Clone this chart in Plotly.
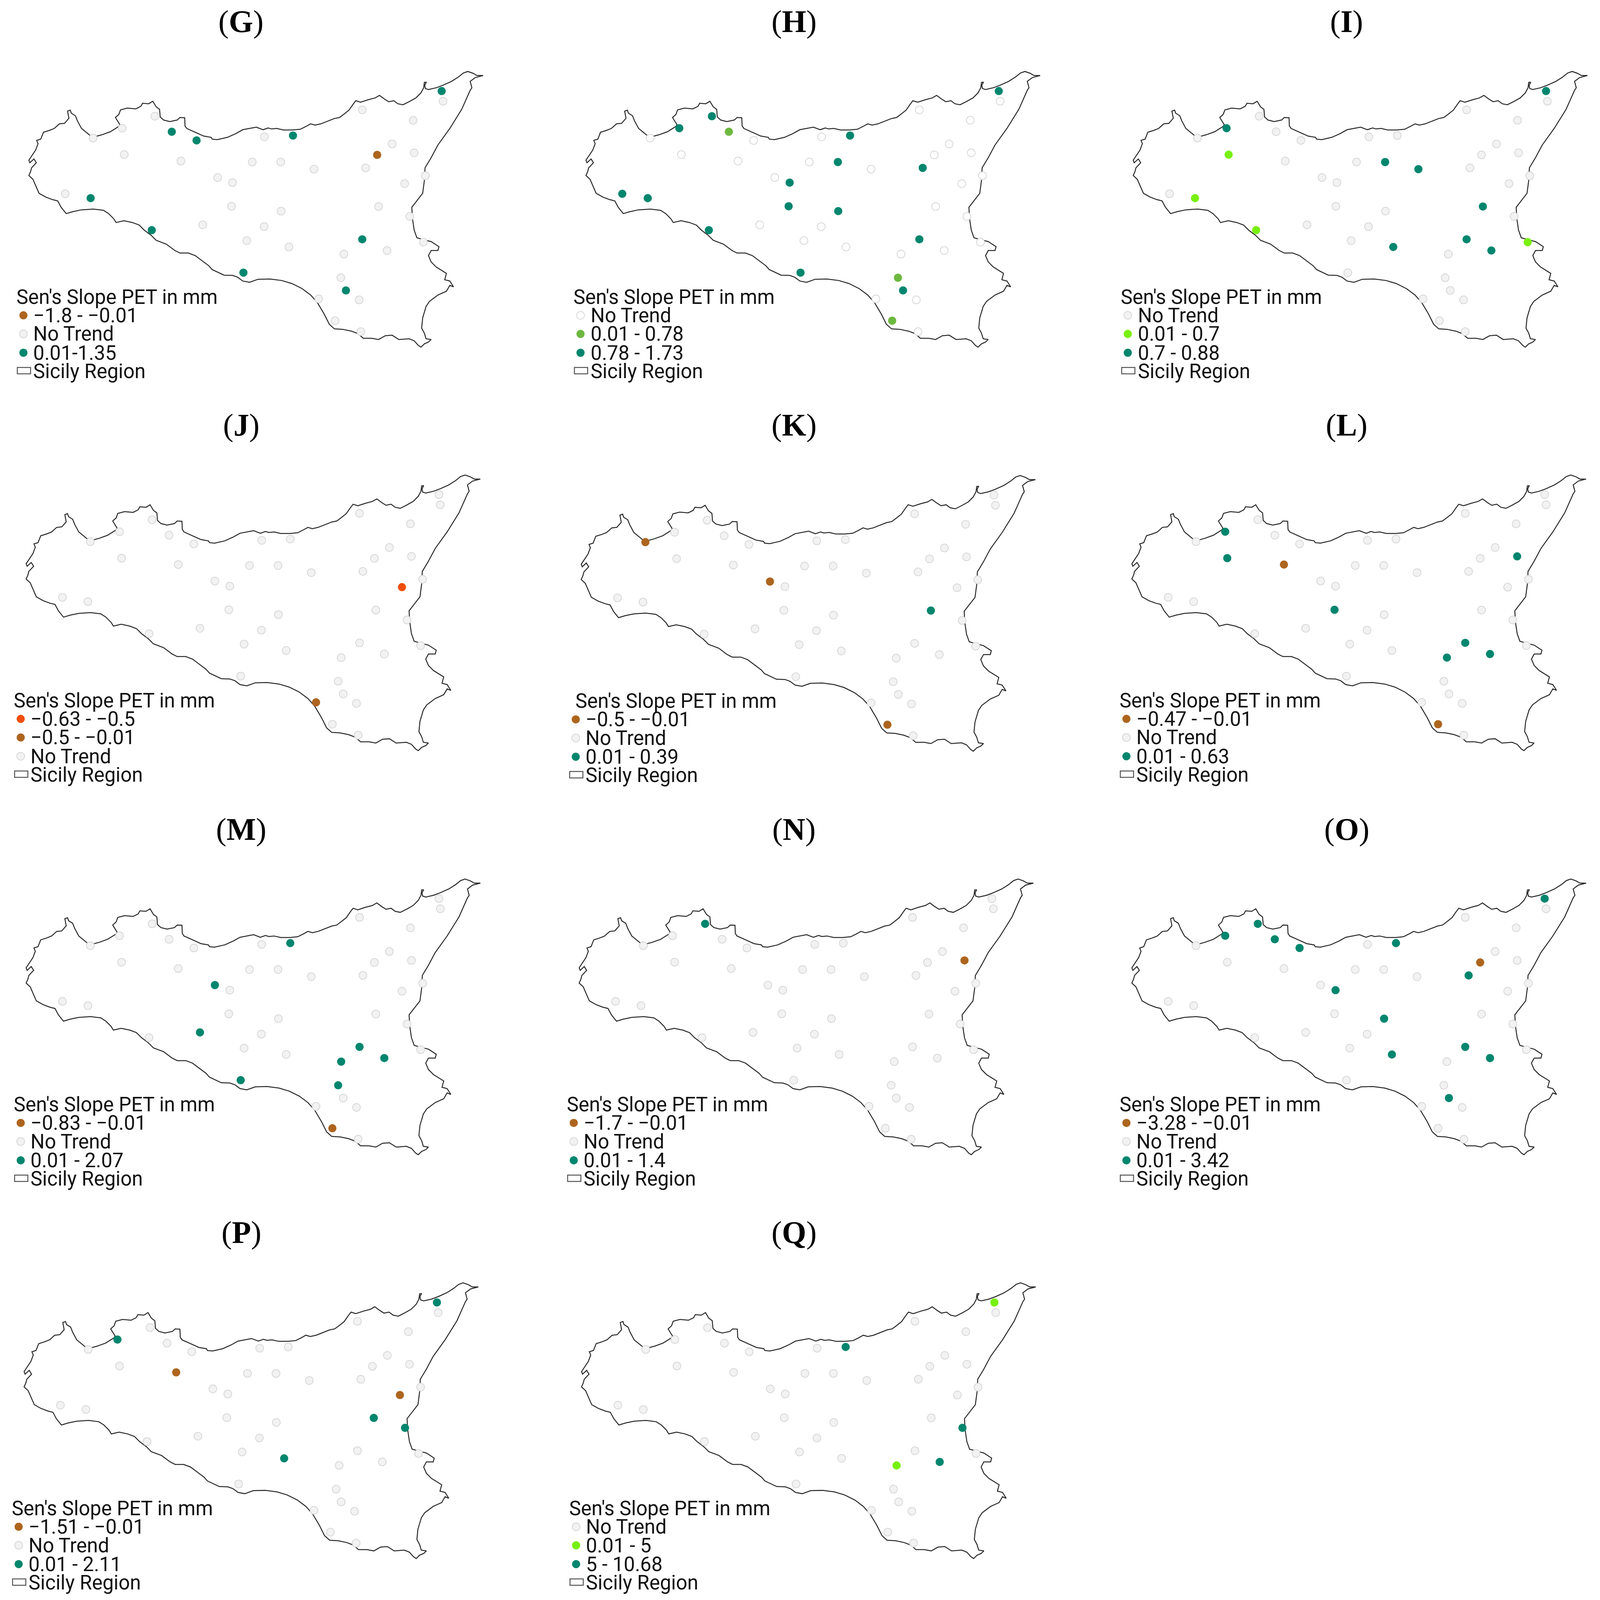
# -*- coding: utf-8 -*-
import plotly.graph_objects as go

# station positions (map units of that panel)
station_x = [1301, 1305, 1067, 1217, 456, 360, 506, 579, 274, 779, 863, 1155, 1220, 1111, 366, 533,
             743, 827, 925, 1077, 641, 685, 1253, 1192, 192, 267, 682, 828, 1115, 1207, 447, 597,
             778, 727, 851, 1067, 1013, 1140, 1247, 717, 1004, 1019, 939, 1058, 987, 1063]
station_y = [358, 398, 432, 473, 457, 504, 518, 552, 543, 538, 533, 566, 601, 609, 608, 633,
             637, 637, 665, 660, 698, 718, 691, 722, 762, 779, 811, 830, 812, 851, 905, 884,
             891, 946, 971, 941, 999, 985, 952, 1072, 1092, 1142, 1175, 1179, 1261, 1304]

# coast of Sicily, same map units
coast_x = [1423, 1405, 1393, 1378, 1365, 1350, 1330, 1305, 1285, 1262, 1253, 1251, 1256, 1250, 1248, 1240,
           1225, 1205, 1187, 1172, 1160, 1145, 1132, 1118, 1105, 1085, 1062, 1048, 1040, 1028, 1012, 1000,
           985, 965, 945, 928, 915, 900, 885, 862, 835, 815, 800, 790, 775, 755, 735, 715, 695, 670, 640,
           625, 622, 600, 575, 550, 545, 544, 530, 522, 500, 482, 472, 470, 460, 450, 438, 420, 415, 400,
           375, 355, 350, 340, 353, 350, 325, 300, 272, 258, 240, 228, 222, 210, 207, 199, 203, 190, 175,
           160, 145, 128, 120, 108, 112, 105, 95, 85, 88, 100, 107, 93, 90, 85, 97, 108, 115, 135, 155,
           170, 180, 195, 215, 240, 275, 305, 320, 335, 342, 365, 390, 410, 425, 445, 460, 490, 515, 530,
           555, 575, 595, 615, 625, 650, 660, 685, 700, 715, 735, 760, 795, 830, 860, 890, 915, 935, 955,
           970, 985, 1010, 1035, 1055, 1070, 1095, 1115, 1135, 1155, 1175, 1205, 1220, 1232, 1240, 1250,
           1262, 1270, 1255, 1250, 1242, 1245, 1255, 1265, 1290, 1315, 1325, 1336, 1325, 1310, 1315, 1300,
           1285, 1270, 1262, 1270, 1290, 1293, 1270, 1255, 1228, 1220, 1215, 1213, 1225, 1245, 1250, 1252,
           1270, 1290, 1325, 1360, 1385, 1390, 1385, 1400, 1423]
coast_y = [297, 297, 288, 281, 287, 303, 320, 335, 345, 352, 348, 335, 323, 324, 345, 365,
           385, 400, 412, 408, 396, 400, 389, 375, 385, 392, 402, 396, 410, 433, 450, 462,
           466, 476, 487, 492, 487, 498, 508, 511, 511, 505, 507, 503, 510, 500, 505, 510, 525, 540, 549,
           547, 540, 535, 520, 505, 495, 463, 462, 472, 478, 472, 460, 430, 420, 398, 408, 406, 418, 428,
           425, 432, 450, 462, 490, 497, 518, 530, 540, 525, 505, 475, 455, 445, 433, 437, 465, 485, 487,
           505, 513, 520, 547, 552, 565, 590, 610, 630, 640, 625, 640, 660, 675, 690, 705, 740, 760, 775, 785,
           790, 815, 840, 832, 825, 822, 827, 840, 860, 875, 868, 875, 885, 905, 925, 945, 960, 985, 995,
           995, 1005, 1025, 1045, 1060, 1075, 1082, 1083, 1090, 1105, 1110, 1098, 1097, 1103, 1115, 1135, 1160, 1190, 1235,
           1275, 1293, 1295, 1302, 1312, 1330, 1330, 1335, 1320, 1318, 1335, 1332, 1340, 1358, 1365, 1352,
           1345, 1335, 1332, 1310, 1290, 1250, 1205, 1185, 1160, 1145, 1122, 1128, 1105, 1100, 1075, 1063,
           1050, 1030, 1005, 985, 985, 970, 950, 945, 935, 905, 860, 815, 795, 760, 710, 660,
           620, 570, 505, 430, 355, 345, 320, 305, 297]

panel_letters = ["G", "H", "I", "J", "K", "L", "M", "N", "O", "P", "Q"]

# legend of each panel, top to bottom: (class, label)
panel_legends = [
    [("brown", "−1.8 - −0.01"), ("none", "No Trend"), ("teal", "0.01-1.35")],
    [("none", "No Trend"), ("green", "0.01 - 0.78"), ("teal", "0.78 - 1.73")],
    [("none", "No Trend"), ("lime", "0.01 - 0.7"), ("teal", "0.7 - 0.88")],
    [("orange", "−0.63 - −0.5"), ("brown", "−0.5 - −0.01"), ("none", "No Trend")],
    [("brown", "−0.5 - −0.01"), ("none", "No Trend"), ("teal", "0.01 - 0.39")],
    [("brown", "−0.47 - −0.01"), ("none", "No Trend"), ("teal", "0.01 - 0.63")],
    [("brown", "−0.83 - −0.01"), ("none", "No Trend"), ("teal", "0.01 - 2.07")],
    [("brown", "−1.7 - −0.01"), ("none", "No Trend"), ("teal", "0.01 - 1.4")],
    [("brown", "−3.28 - −0.01"), ("none", "No Trend"), ("teal", "0.01 - 3.42")],
    [("brown", "−1.51 - −0.01"), ("none", "No Trend"), ("teal", "0.01 - 2.11")],
    [("none", "No Trend"), ("lime", "0.01 - 5"), ("teal", "5 - 10.68")],
]

# stations with a trend in each panel, all the others are No Trend
panel_hits = [
    {"teal": [0, 6, 7, 10, 25, 30, 35, 39, 41], "brown": [13]},
    {"teal": [0, 4, 5, 10, 17, 19, 21, 24, 25, 26, 27, 30, 35, 39, 41], "green": [6, 40, 44]},
    {"teal": [0, 5, 17, 18, 28, 34, 35, 37], "lime": [14, 25, 30, 38]},
    {"orange": [23], "brown": [42]},
    {"brown": [8, 20, 44], "teal": [28]},
    {"teal": [5, 12, 14, 26, 35, 36, 37], "brown": [15, 44]},
    {"teal": [10, 20, 31, 35, 36, 37, 39, 40], "brown": [44]},
    {"teal": [4], "brown": [12]},
    {"teal": [0, 4, 5, 6, 7, 10, 19, 21, 27, 34, 35, 37, 41], "brown": [13]},
    {"teal": [0, 5, 28, 29, 34], "brown": [15, 23]},
    {"lime": [0, 36], "teal": [10, 29, 37]},
]

colors = {"brown": "#AD651E", "teal": "#00866E", "green": "#6DB83F", "lime": "#78F00F", "orange": "#F04E0A"}

W, H = 4208, 4614
SX, SY = 1.12, 1.3635  # map units per pixel
X0, X1, Y0, Y1 = 30, 1435, 230, 1500  # map window shown in every panel

# top-left of each panel on the page and shift of the map inside it
col_x = [0, 1400, 2800]
row_y = [0, 1160, 2320, 3464]
shift_x = [0, 73, 117, -8, 59, 113, -8, 53, 113, -14, 60]
shift_y = [0, 0, 0, 5, 7, 5, 12, 12, 12, 40, 40]
title_x = [710, 771, 830, 711, 771, 831, 711, 771, 831, 711, 771]
title_y = [86, 86, 86, 90, 90, 90, 98, 98, 98, 123, 123]
legend_title_x = [46, 46, 46, 46, 65, 46, 46, 46, 46, 46, 46]

TEXT_X = 96
ROWS = [1240, 1313, 1387]
ROW_REGION = 1460
ROW_TITLE = 1168
LEGEND_FONT = dict(family="Roboto", size=51, color="#111111")


def no_trend_marker(letter):
    # panel H has hollow circles, the others light grey ones
    fill = "#FFFFFF" if letter == "H" else "#F2F2F2"
    return dict(size=20, color=fill, line=dict(color="#D8D8D8", width=2))


fig = go.Figure()
annotations = []
shapes = []

for i, letter in enumerate(panel_letters):
    ax = "" if i == 0 else str(i + 1)
    xref, yref = "x" + ax, "y" + ax
    left = col_x[i % 3] + (shift_x[i] + X0) / SX
    top = row_y[i // 3] + (shift_y[i] + Y0) / SY
    wpx = (X1 - X0) / SX
    hpx = (Y1 - Y0) / SY
    fig.update_layout({
        "xaxis" + ax: dict(domain=[left / W, (left + wpx) / W], range=[X0, X1], visible=False, fixedrange=True),
        "yaxis" + ax: dict(domain=[1 - (top + hpx) / H, 1 - top / H], range=[Y1, Y0], visible=False, fixedrange=True),
    })

    fig.add_trace(go.Scatter(x=coast_x, y=coast_y, mode="lines", xaxis=xref, yaxis=yref,
                             line=dict(color="#2B2B2B", width=2.5), showlegend=False, hoverinfo="skip"))

    hits = panel_hits[i]
    taken = [s for v in hits.values() for s in v]
    rest = [s for s in range(len(station_x)) if s not in taken]
    fig.add_trace(go.Scatter(x=[station_x[s] for s in rest], y=[station_y[s] for s in rest],
                             mode="markers", xaxis=xref, yaxis=yref, name="No Trend",
                             marker=no_trend_marker(letter), showlegend=False))
    for key, idx in hits.items():
        fig.add_trace(go.Scatter(x=[station_x[s] for s in idx], y=[station_y[s] for s in idx],
                                 mode="markers", xaxis=xref, yaxis=yref, name=key,
                                 marker=dict(size=21, color=colors[key]), showlegend=False))

    # legend, drawn by hand because plotly's own rows come out too tall here
    for row, (key, label) in zip(ROWS, panel_legends[i]):
        if key == "none":
            marker = no_trend_marker(letter)
        else:
            marker = dict(size=21, color=colors[key])
        fig.add_trace(go.Scatter(x=[69], y=[row], mode="markers", xaxis=xref, yaxis=yref,
                                 marker=marker, showlegend=False, hoverinfo="skip"))
        annotations.append(dict(x=TEXT_X, y=row, xref=xref, yref=yref, text=label, showarrow=False,
                                xanchor="left", yanchor="middle", font=LEGEND_FONT))
    annotations.append(dict(x=legend_title_x[i], y=ROW_TITLE, xref=xref, yref=yref, text="Sen's Slope PET in mm",
                            showarrow=False, xanchor="left", yanchor="middle", font=LEGEND_FONT))
    annotations.append(dict(x=TEXT_X, y=ROW_REGION, xref=xref, yref=yref, text="Sicily Region", showarrow=False,
                            xanchor="left", yanchor="middle", font=LEGEND_FONT))
    shapes.append(dict(type="rect", xref=xref, yref=yref, x0=51, x1=90, y0=1445, y1=1470,
                       line=dict(color="#555555", width=2.5), fillcolor="#FFFFFF"))

    # panel letter, on the page rather than in the map
    annotations.append(dict(x=(col_x[i % 3] + title_x[i] / SX) / W, y=1 - (row_y[i // 3] + title_y[i] / SY) / H,
                            xref="paper", yref="paper", text="(<b>" + letter + "</b>)", showarrow=False,
                            xanchor="center", yanchor="middle",
                            font=dict(family="Liberation Serif", size=80, color="#000000")))

fig.update_layout(autosize=True, margin=dict(l=0, r=0, t=0, b=0), paper_bgcolor="white",
                  plot_bgcolor="white", showlegend=False, annotations=annotations, shapes=shapes)

# the page's default body margin would push the figure off its place
fig.write_html("out.html", config={"displayModeBar": False},
               post_script="document.body.style.margin='0';Plotly.Plots.resize(document.getElementById('{plot_id}'));")
